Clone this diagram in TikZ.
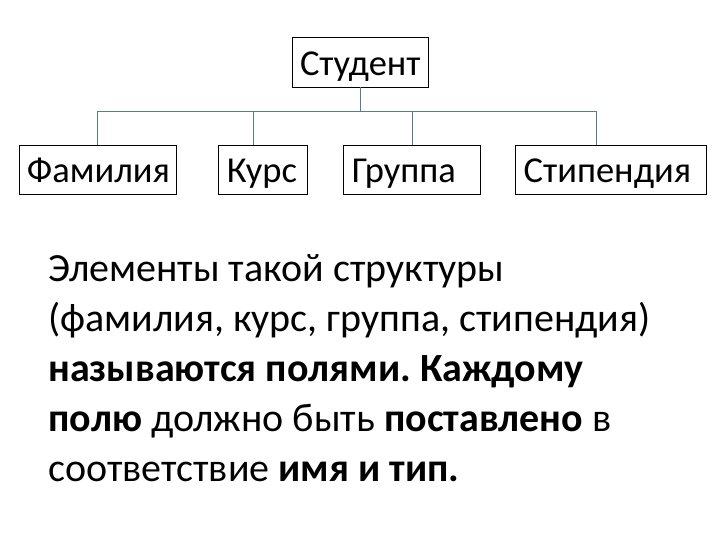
\documentclass[tikz,border=0pt]{standalone}
\usepackage{fontspec}
\setmainfont{Carlito}
\frenchspacing
\usetikzlibrary{positioning}
\definecolor{linkblue}{RGB}{84,124,152}

\begin{document}
\begin{tikzpicture}[x=1pt, y=-1pt,
  field/.style={draw, line width=0.9pt, minimum height=49pt, inner xsep=8pt, inner ysep=0pt, text height=30pt, text depth=3pt, align=left, font=\fontsize{36.5}{44}\selectfont},
  link/.style={draw=linkblue, line width=1pt}
]
  \useasboundingbox[fill=white] (0,0) rectangle (720,540);

  \node[field, text width=120pt, align=center, minimum height=50pt] (student) at (360,62) {Студент};
  \node[field, text width=141pt] (famil) at (97.5,169.5) {Фамилия};
  \node[field, text width=73pt, right=42pt of famil] (kurs) {Курс};
  \node[field, text width=121pt, right=35pt of kurs] (grp) {Группа};
  \node[field, text width=175pt, right=34pt of grp] (stip) {Стипендия};

  \draw[link] (student.south) -- ++(0,24) coordinate (bus);
  \draw[link] (bus) -| (famil.north);
  \draw[link] (bus) -| ([xshift=-9.5pt]kurs.north);
  \draw[link] (bus) -| (grp.north);
  \draw[link] (bus) -| ([xshift=-15pt]stip.north);

  \node[anchor=base west, align=left, inner sep=0pt, font=\fontsize{40}{50}\selectfont] (note) at (48,481)
    {Элементы такой структуры\\
     (фамилия, курс, группа, стипендия)\\
     \textbf{называются полями. Каждому}\\
     \textbf{полю} должно быть \textbf{поставлено} в\\
     соответствие \textbf{имя и тип.}};
\end{tikzpicture}
\end{document}
